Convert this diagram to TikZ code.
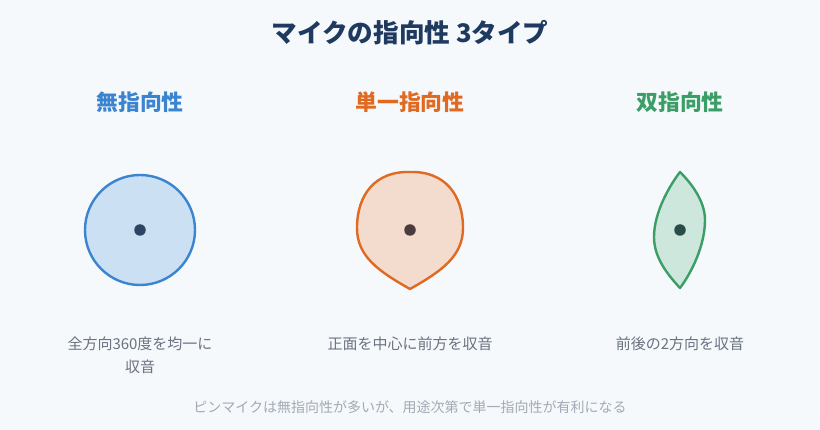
\documentclass[tikz,border=0pt]{standalone}
\usepackage{fontspec}
\setmainfont{Noto Sans CJK JP}
\definecolor{bg}{HTML}{F5F9FC}
\definecolor{titlec}{HTML}{1F3A5F}
\definecolor{bluec}{HTML}{3A84D0}
\definecolor{bluef}{HTML}{CCE0F3}
\definecolor{orangec}{HTML}{E06A22}
\definecolor{orangef}{HTML}{F3DBCD}
\definecolor{greenc}{HTML}{3A9E66}
\definecolor{greenf}{HTML}{CEE7DC}
\definecolor{descc}{HTML}{6B7280}
\definecolor{footc}{HTML}{A3AAB5}
\definecolor{dotb}{HTML}{2D4562}
\definecolor{doto}{HTML}{4A3C3C}
\definecolor{dotg}{HTML}{2B4A4A}
\tikzset{
  heading/.style={font=\bfseries\fontsize{21.8}{26}\selectfont, inner sep=0pt},
  desc/.style={font=\fontsize{15}{23}\selectfont, text=descc, inner sep=0pt, align=center},
  pattern line/.style={line width=2.4pt, line join=round},
  micdot/.style={circle, inner sep=0pt, minimum size=11.5pt}
}
\begin{document}
\begin{tikzpicture}[x=1pt,y=-1pt]
\fill[bg] (0,0) rectangle (820,430);
\useasboundingbox (0,0) rectangle (820,430);
% title
\node[font=\bfseries\fontsize{25.6}{30}\selectfont, text=titlec, inner sep=0pt] (title) at (410,33) {マイクの指向性 3タイプ};
% headings
\node[heading, text=bluec] (h1) at (140,102) {無指向性};
\node[heading, text=orangec] (h2) at (410,102) {単一指向性};
\node[heading, text=greenc] (h3) at (680,102) {双指向性};
% omni
\draw[pattern line, draw=bluec, fill=bluef] (140,230) circle[radius=55];
\node[micdot, fill=dotb] (d1) at (140,230) {};
% cardioid
\draw[pattern line, draw=orangec, fill=orangef]
  (410,172) .. controls (445,171) and (463,195) .. (463,228)
  .. controls (463,256) and (442,271) .. (410,289)
  .. controls (378,271) and (357,256) .. (357,228)
  .. controls (357,195) and (375,171) .. (410,172) -- cycle;
\node[micdot, fill=doto] (d2) at (410,230) {};
% figure-8
\draw[pattern line, draw=greenc, fill=greenf]
  (680,172) .. controls (690,182) and (705,200) .. (705,220)
  .. controls (705,245) and (692,272) .. (680,288)
  .. controls (668,275) and (654,258) .. (654,237)
  .. controls (654,212) and (670,185) .. (680,172) -- cycle;
\node[micdot, fill=dotg] (d3) at (680,230) {};
% descriptions
\node[desc] (t1) at (140,355.5) {全方向360度を均一に\\収音};
\node[desc] (t2) at (410,344) {正面を中心に前方を収音};
\node[desc] (t3) at (680,344) {前後の2方向を収音};
% footer
\node[font=\fontsize{14}{17}\selectfont, text=footc, inner sep=0pt] (foot) at (410,407) {ピンマイクは無指向性が多いが、用途次第で単一指向性が有利になる};
\end{tikzpicture}
\end{document}
